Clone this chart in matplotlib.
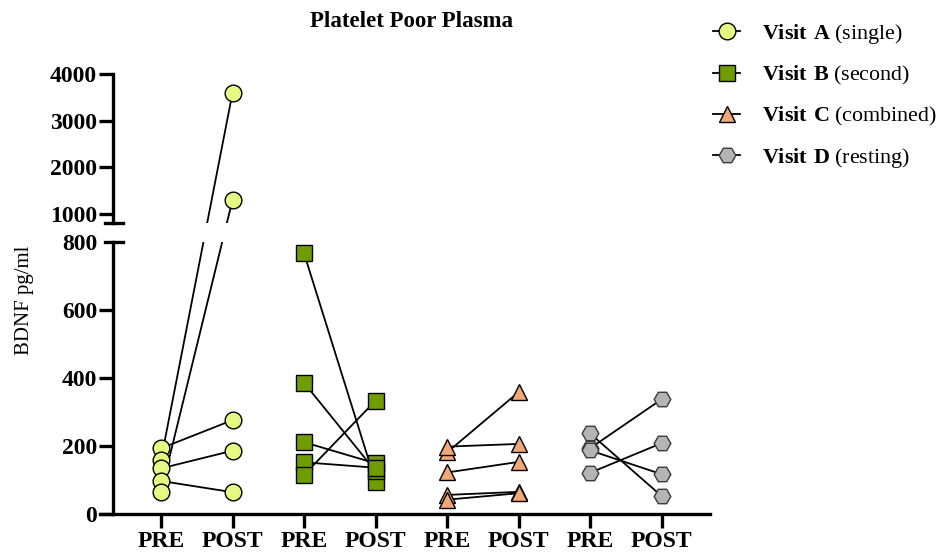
import matplotlib
matplotlib.use('Agg')
import matplotlib.pyplot as plt
from matplotlib.lines import Line2D

plt.rcParams['font.family'] = 'Liberation Serif'
plt.rcParams['mathtext.fontset'] = 'custom'
plt.rcParams['mathtext.rm'] = 'Liberation Serif'
plt.rcParams['mathtext.bf'] = 'Liberation Serif:bold'

# BDNF values (pg/ml), one entry per subject, PRE and POST paired by index
visit_a_pre = [194, 160, 135, 98, 66]
visit_a_post = [277, 3600, 187, 65, 1300]
visit_b_pre = [768, 387, 212, 153, 116]
visit_b_post = [96, 127, 150, 137, 334]
visit_c_pre = [182, 199, 123, 57, 43]
visit_c_post = [359, 207, 154, 66, 62]
visit_d_pre = [238, 194, 188, 122]
visit_d_post = [54, 338, 118, 209]

tick_labels = ['PRE', 'POST'] * 4
visit_names = ['Visit A', 'Visit B', 'Visit C', 'Visit D']
visit_notes = ['(single)', '(second)', '(combined)', '(resting)']

series = [(visit_a_pre, visit_a_post), (visit_b_pre, visit_b_post),
          (visit_c_pre, visit_c_post), (visit_d_pre, visit_d_post)]
markers = ['o', 's', '^', 'H']
sizes = [12, 11, 12, 12]
fills = ['#e6f982', '#6f9c00', '#f0a878', '#b4b4b4']
edges = ['black', 'black', 'black', '#3a3a3a']

W, H = 948, 554
fig = plt.figure(figsize=(W / 100, H / 100), dpi=100)


def px(x0, y0, w, h):
    # pixel box (top-left origin) -> figure fraction
    return [x0 / W, 1 - (y0 + h) / H, w / W, h / H]


ax_bot = fig.add_axes(px(100, 242.3, 610, 272))
ax_top = fig.add_axes(px(100, 74.3, 610, 149))

x_left = 1 - 61 / 71.5
x_spine = 1 - 48 / 71.5
x_right = 8 + 48.5 / 71.5
lw_ax = 2.4
fs_tick = 17

for ax in (ax_bot, ax_top):
    ax.set_xlim(x_left, x_right)
    ax.spines['right'].set_visible(False)
    ax.spines['top'].set_visible(False)
    ax.spines['left'].set_position(('data', x_spine))
    ax.spines['left'].set_linewidth(lw_ax)
    ax.tick_params(axis='y', length=10, width=lw_ax, pad=1.5, labelsize=fs_tick)

ax_bot.set_ylim(0, 800)
ax_top.set_ylim(800, 4000)

ax_top.spines['bottom'].set_visible(False)
ax_top.set_xticks([])
ax_top.set_yticks([1000, 2000, 3000, 4000])

ax_bot.spines['bottom'].set_linewidth(lw_ax)
ax_bot.set_yticks([0, 200, 400, 600])
ax_bot.set_yticks([800], minor=True)
ax_bot.set_yticklabels(['800'], minor=True)
ax_bot.tick_params(axis='y', which='minor', length=0, pad=11.5, labelsize=fs_tick)
ax_bot.set_xticks(range(1, 9))
ax_bot.set_xticklabels(tick_labels)
ax_bot.tick_params(axis='x', length=10, width=lw_ax, pad=2, labelsize=fs_tick)
for lab in ax_bot.get_xticklabels() + ax_bot.get_yticklabels(which='both') + ax_top.get_yticklabels():
    lab.set_fontweight('bold')


def to_disp(x, v):
    ax = ax_top if v > 800 else ax_bot
    return ax.transData.transform((x, v))


# connecting lines, straight in pixel space across the axis break
for i, (pre, post) in enumerate(series):
    x0, x1 = 2 * i + 1, 2 * i + 2
    for a, b in zip(pre, post):
        p = [to_disp(x0, a), to_disp(x1, b)]
        for ax in (ax_bot, ax_top):
            d = ax.transData.inverted().transform(p)
            ax.plot(d[:, 0], d[:, 1], color='black', lw=1.3, zorder=2)

# markers
for i, (pre, post) in enumerate(series):
    x0, x1 = 2 * i + 1, 2 * i + 2
    for x, vals in ((x0, pre), (x1, post)):
        for v in vals:
            ax = ax_top if v > 800 else ax_bot
            ax.plot([x], [v], ls='none', marker=markers[i], ms=sizes[i],
                    mfc=fills[i], mec=edges[i], mew=1.0, zorder=3, clip_on=False)

# break caps on the y axis
for yc in (242.3, 223.3):
    fig.add_artist(Line2D([105 / W, 123 / W], [1 - yc / H] * 2,
                          transform=fig.transFigure, color='black', lw=lw_ax))

fig.text(411.5 / W, 1 - 21.7 / H, 'Platelet Poor Plasma', ha='center', va='center',
         fontsize=16.5, fontweight='bold')
fig.text(25 / W, 1 - 300 / H, 'BDNF pg/ml', rotation=90, ha='center', va='center',
         fontsize=15)

handles = [Line2D([], [], color='black', lw=1.3, marker=markers[i], ms=sizes[i],
                  mfc=fills[i], mec=edges[i], mew=1.0) for i in range(4)]
labels = [r'$\mathbf{%s}$ %s' % (n.replace(' ', r'\ '), t)
          for n, t in zip(visit_names, visit_notes)]
fig.legend(handles, labels, loc='upper left', bbox_to_anchor=(713 / W, 1 - 22 / H),
           frameon=False, borderpad=0, borderaxespad=0, fontsize=15.8,
           handlelength=1.25, handletextpad=1.0, labelspacing=0.82)

fig.savefig('out.png', dpi=100)
